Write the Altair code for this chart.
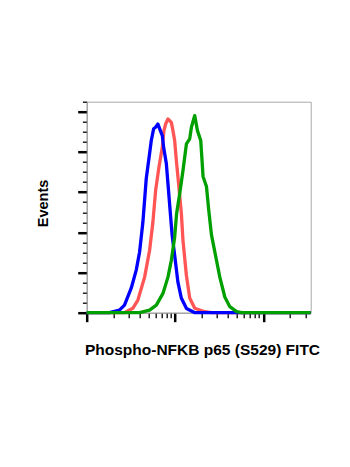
import altair as alt
import pandas as pd

# ---- data (intensity on log axis, event counts) ----
blue_x = [1, 1.81, 2.35, 2.68, 3.20, 3.64, 3.97, 4.33, 4.73, 5.16, 5.39, 5.73, 6.04, 6.41,
          6.83, 7.19, 7.44, 7.99, 8.33, 8.87, 9.29, 9.92, 10.8, 11.8, 13.5, 16.8, 345]
blue_y = [0, 0, 1.3, 3.8, 12.3, 21.2, 30.1, 45.0, 66.8, 79.2, 85.7, 91.5, 92.3, 93.9,
          90.6, 88.1, 82.3, 74.1, 64.2, 49.3, 38.5, 28.6, 15.2, 7.3, 2.1, 0, 0]

red_x = [1, 2.68, 3.33, 3.80, 4.53, 5.16, 5.62, 6.04, 6.58, 7.19, 7.50, 7.84, 8.33, 9.10,
         9.49, 9.92, 10.37, 10.82, 11.82, 12.33, 13.48, 14.69, 16.75, 21.76, 26.1, 345]
red_y = [0, 0, 2.2, 6.3, 17.7, 31.1, 45.0, 60.9, 72.4, 82.3, 90.6, 93.9, 96.4, 94.7,
         90.6, 85.7, 75.7, 67.3, 49.3, 35.9, 18.5, 7.3, 2.2, 0.5, 0, 0]

green_x = [1, 3.97, 5.16, 6.15, 7.31, 8.33, 9.10, 9.92, 10.45, 11.31, 12.33, 13.48, 14.69,
           15.36, 16.75, 17.97, 19.59, 20.81, 22.74, 24.15, 25.92, 29.54, 32.21, 36.71,
           41.84, 49.86, 57.3, 345]
green_y = [0, 0, 1.3, 3.8, 9.6, 17.7, 26.1, 37.6, 49.5, 59.2, 70.8, 84.0, 86.5,
           92.3, 98.1, 90.6, 85.7, 67.8, 62.8, 50.9, 38.7, 26.1, 17.7, 7.8,
           3.0, 0.5, 0, 0]

x_major = [1, 10, 100]
x_minor = [2, 3, 4, 5, 6, 7, 8, 9, 20, 30, 40, 50, 60, 70, 80, 90, 200, 300]
y_major = [0, 20, 40, 60, 80, 100]
y_minor = [5, 10, 15, 25, 30, 35, 45, 50, 55, 65, 70, 75, 85, 90, 95, 105]

x_title = "Phospho-NFKB p65 (S529) FITC"
y_title = "Events"


def frame(xs, ys, name):
    return pd.DataFrame({"intensity": xs, "events": ys, "series": name,
                         "order": list(range(len(xs)))})


df_red = frame(red_x, red_y, "red")
df_blue = frame(blue_x, blue_y, "blue")
df_green = frame(green_x, green_y, "green")

xscale = alt.Scale(type="log", domain=[1, 345], nice=False)
yscale = alt.Scale(domain=[0, 105], nice=False, zero=True)

FONT = "Liberation Sans"

x_axis_major = alt.Axis(values=x_major, labels=False, tickSize=9, tickWidth=2.5,
                        tickColor="black", domainColor="#9a9a9a", domainWidth=1,
                        grid=False, orient="bottom", title=x_title,
                        titleFont=FONT, titleFontSize=15.5, titleFontWeight="bold",
                        titleColor="black", titleX=115.3, titleY=41.5,
                        titleAlign="center", titleBaseline="alphabetic")
y_axis_major = alt.Axis(values=y_major, labels=False, tickSize=9, tickWidth=2.5,
                        tickColor="black", domainColor="#9a9a9a", domainWidth=1,
                        grid=False, orient="left", title=y_title,
                        titleFont=FONT, titleFontSize=14.5, titleFontWeight="bold",
                        titleColor="black", titleX=-39.4, titleY=101.3,
                        titleAngle=270, titleAlign="center",
                        titleBaseline="alphabetic")

x_axis_minor = alt.Axis(values=x_minor, labels=False, tickSize=5, tickWidth=1.3,
                        tickColor="black", domain=False, grid=False,
                        orient="bottom", title="")
y_axis_minor = alt.Axis(values=y_minor, labels=False, tickSize=4.3, tickWidth=1.3,
                        tickColor="black", domain=False, grid=False,
                        orient="left", title="")


def curve(df, colour, xaxis, yaxis):
    xenc = alt.X("intensity:Q", scale=xscale)
    yenc = alt.Y("events:Q", scale=yscale)
    xenc = xenc.axis(xaxis) if xaxis is not None else xenc.axis(None)
    yenc = yenc.axis(yaxis) if yaxis is not None else yenc.axis(None)
    return alt.Chart(df).mark_line(strokeWidth=3.3, color=colour, strokeJoin="round").encode(
        x=xenc, y=yenc, order=alt.Order("order:Q"))


red = curve(df_red, "#ff5555", x_axis_major, y_axis_major)
blue = curve(df_blue, "#0000ff", None, None)
green = curve(df_green, "#00a000", None, None)
minor = alt.Chart(df_green).mark_line(opacity=0).encode(
    x=alt.X("intensity:Q", scale=xscale, axis=x_axis_minor),
    y=alt.Y("events:Q", scale=yscale, axis=y_axis_minor),
    order=alt.Order("order:Q"))

chart = alt.layer(minor, red, blue, green).resolve_axis(
    x="independent", y="independent"
).properties(
    width=224, height=211,
    autosize="none",
    padding={"left": 78.7, "top": 93.7, "right": 31.3, "bottom": 146.3},
).configure_view(stroke="#a8a8a8", strokeWidth=1)

chart.save("out.html", embed_options={"renderer": "svg", "actions": False})
